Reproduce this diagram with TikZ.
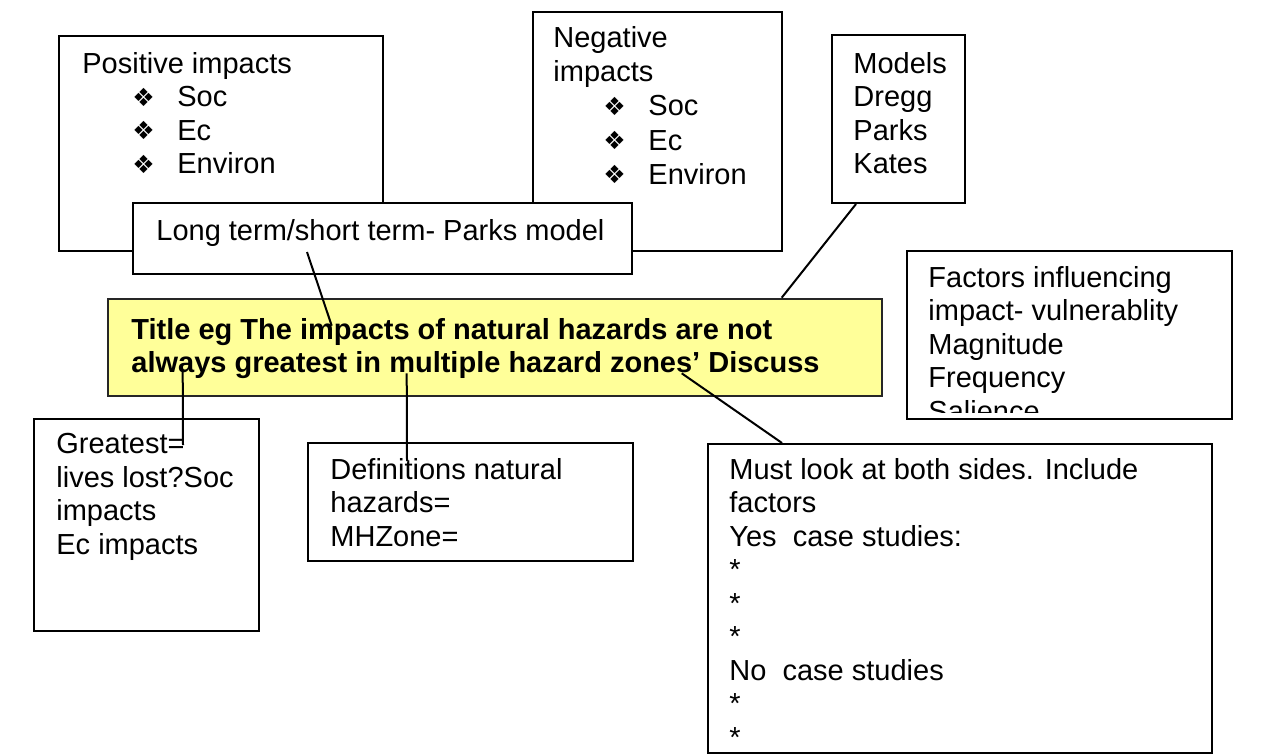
\documentclass[tikz,border=0pt]{standalone}
\usepackage{fontspec}
\setmainfont{Liberation Sans}
\newfontfamily\dejavu{DejaVu Sans}
\usepackage{tikz}
\usetikzlibrary{calc,fit}
\definecolor{titlefill}{RGB}{255,255,153}
\newcommand{\bul}{\makebox[22.5pt][l]{\dejavu\fontsize{12.5}{12.5}\selectfont\raisebox{0.3pt}{❖}}}
\newcommand{\sub}[1]{\hspace*{25pt}\bul#1}

\begin{document}
\begin{tikzpicture}[x=0.5pt, y=-0.5pt,
  every node/.style={font=\fontsize{14.5}{16.75}\selectfont},
  box/.style={draw=black, line width=1pt, fill=white, inner sep=0pt},
  txt/.style={align=left, inner sep=0pt, anchor=north west},
  link/.style={draw=black, line width=1pt}
]
\useasboundingbox (0,0) rectangle (1272,755);

% top row
\node[box, fit={(59,36) (383,251)}] (pos) {};
\node[txt] (posT) at (82,52) {Positive impacts\\\sub{Soc}\\\sub{Ec}\\\sub{Environ}};
\node[box, fit={(533,12) (782,251)}] (neg) {};
\node[txt, font=\fontsize{14.5}{17.1}\selectfont] (negT) at (553,26) {Negative\\impacts\\\sub{Soc}\\\sub{Ec}\\\sub{Environ}};
\node[box, fit={(832,35) (965,203)}] (models) {};
\node[txt] (modelsT) at (853,52) {Models\\Dregg\\Parks\\Kates};
\node[box, fit={(133,203) (632,274)}] (lt) {};
\node[txt] (ltT) at (156,219) {Long term/short term- Parks model};

% factors, last line cut off by the box
\node[box, fit={(907,251) (1232,419)}] (fac) {};
\begin{scope}
  \clip ($(fac.north west)+(2,2)$) rectangle ($(fac.south east)+(-2,-8)$);
  \node[txt] (facT) at (928,266) {Factors influencing\\impact- vulnerablity\\Magnitude\\Frequency\\Salience};
\end{scope}

% title
\node[box, fill=titlefill, draw=black!85, line width=1.3pt, fit={(108,299) (882,396)}] (title) {};
\node[txt, font=\fontsize{14.5}{16.5}\selectfont\bfseries] (titleT) at (131,318)
  {Title eg The impacts of natural hazards are not\\always greatest in multiple hazard zones’ Discuss};

% bottom row
\node[box, fit={(34,419) (259,631)}] (great) {};
\node[txt] (greatT) at (56,433) {Greatest=\\lives lost?Soc\\impacts\\Ec impacts};
\node[box, fit={(308,443) (633,561)}] (def) {};
\node[txt] (defT) at (330,458) {Definitions natural\\hazards=\\MHZone=};
\node[box, fit={(708,444) (1212,753)}] (must) {};
\node[txt] (mustT) at (729,458) {Must look at both sides. Include\\factors\\Yes\ \ case studies:\\*\\*\\*\\No\ \ case studies\\*\\*};

% links
\coordinate (ltTail) at ($(lt.south west)+(175,-23)$);
\coordinate (titleA) at ($(title.north west)+(225,28)$);
\coordinate (modelsTail) at ($(models.south west)+(25,0)$);
\coordinate (titleB) at ($(title.north west)+(675,0)$);
\coordinate (titleC) at ($(title.south west)+(76,-26)$);
\coordinate (greatHead) at ($(great.north west)+(150,27)$);
\coordinate (titleD) at ($(title.south west)+(300,-24)$);
\coordinate (defHead) at ($(def.north west)+(100,19)$);
\coordinate (titleE) at ($(title.south west)+(575,-24)$);
\coordinate (mustHead) at ($(must.north west)+(75,0)$);
\draw[link] (ltTail) -- (titleA);
\draw[link] (modelsTail) -- (titleB);
\draw[link] (titleC) -- (greatHead);
\draw[link] (titleD) -- (defHead);
\draw[link] (titleE) -- (mustHead);
\end{tikzpicture}
\end{document}
